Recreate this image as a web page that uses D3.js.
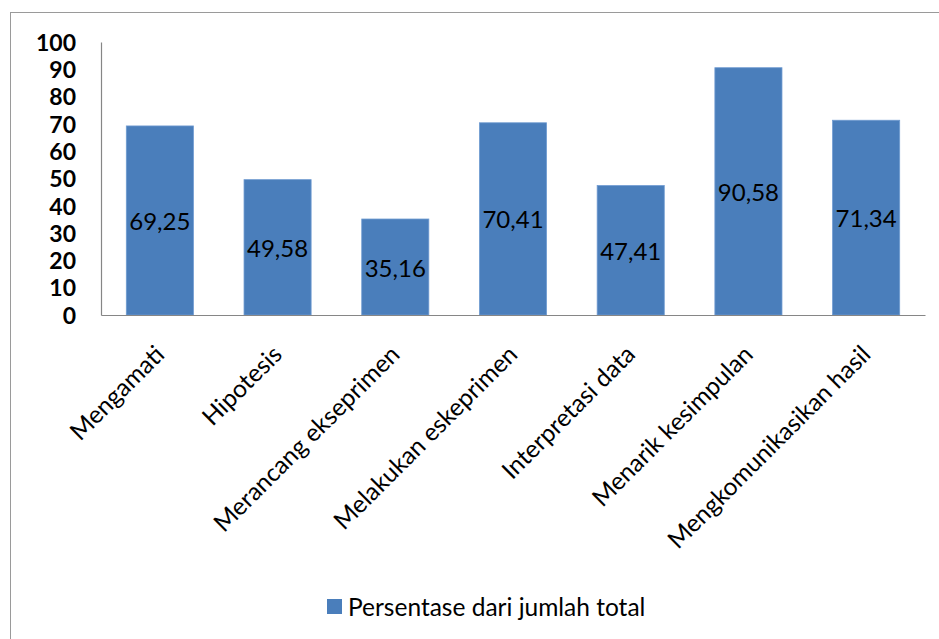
<!DOCTYPE html>
<html>
<head>
<meta charset="utf-8">
<script src="https://cdn.jsdelivr.net/npm/d3@7"></script>
<style>
  html, body { margin: 0; padding: 0; background: #fff; }
  svg { display: block; }
  text { font-family: Lato, "Noto Sans", sans-serif; fill: #000; }
</style>
</head>
<body>
<script>
const categories = ["Mengamati", "Hipotesis", "Merancang ekseprimen", "Melakukan eskeprimen",
                    "Interpretasi data", "Menarik kesimpulan", "Mengkomunikasikan hasil"];
const values = [69.25, 49.58, 35.16, 70.41, 47.41, 90.58, 71.34];
const valueLabels = ["69,25", "49,58", "35,16", "70,41", "47,41", "90,58", "71,34"];
const yTicks = [0, 10, 20, 30, 40, 50, 60, 70, 80, 90, 100];
const seriesName = "Persentase dari jumlah total";

const W = 939, H = 639;
const svg = d3.select("body").append("svg").attr("width", W).attr("height", H);

// outer chart border (extends beyond the visible area on right/bottom)
svg.append("rect").attr("x", 10.5).attr("y", 12.5).attr("width", 1000).attr("height", 700)
  .attr("fill", "none").attr("stroke", "#9a9a9a").attr("stroke-width", 1);

const x = d3.scaleBand().domain(categories).range([101, 925]).paddingInner(0.43).paddingOuter(0.215);
const y = d3.scaleLinear().domain([0, 100]).range([315, 42]);

// bars
svg.append("g").selectAll("rect").data(values).join("rect")
  .attr("x", (d, i) => x(categories[i]))
  .attr("y", d => y(d))
  .attr("width", x.bandwidth())
  .attr("height", d => y(0) - y(d))
  .attr("fill", "#4A7EBB")
  .attr("stroke", "#6f9bd1").attr("stroke-width", 0.8);

// value labels centered in bars
svg.append("g").selectAll("text").data(values).join("text")
  .attr("x", (d, i) => x(categories[i]) + x.bandwidth() / 2)
  .attr("y", d => (y(d) + y(0)) / 2)
  .attr("text-anchor", "middle").attr("dominant-baseline", "central")
  .style("font-size", "24px")
  .text((d, i) => valueLabels[i]);

// y axis
const yAxis = d3.axisLeft(y).tickValues(yTicks).tickSize(0).tickPadding(0);
const gy = svg.append("g").attr("transform", "translate(101,0)").call(yAxis);
gy.select(".domain").attr("stroke", "#868686").attr("stroke-width", 1.2);
gy.selectAll(".tick text").attr("x", -25).attr("dy", "0.36em")
  .style("font-size", "23px").style("font-weight", "bold").style("font-family", "Lato, sans-serif");

// x axis
const xAxis = d3.axisBottom(x).tickSize(0).tickSizeOuter(0);
const gx = svg.append("g").attr("transform", "translate(0,315)").call(xAxis);
gx.select(".domain").attr("stroke", "#868686").attr("stroke-width", 1.2);
gx.selectAll(".tick text")
  .attr("text-anchor", "end")
  .attr("x", 0).attr("y", 0).attr("dy", 0)
  .attr("transform", "translate(6,41) rotate(-45)")
  .style("font-size", "24.5px").style("font-family", "Lato, sans-serif");

// legend
const lg = svg.append("g").attr("transform", "translate(327,599)");
lg.append("rect").attr("width", 15).attr("height", 15).attr("fill", "#4A7EBB");
lg.append("text").attr("x", 21).attr("y", 7.5).attr("dominant-baseline", "central")
  .style("font-size", "24.5px").text(seriesName);
</script>
</body>
</html>
